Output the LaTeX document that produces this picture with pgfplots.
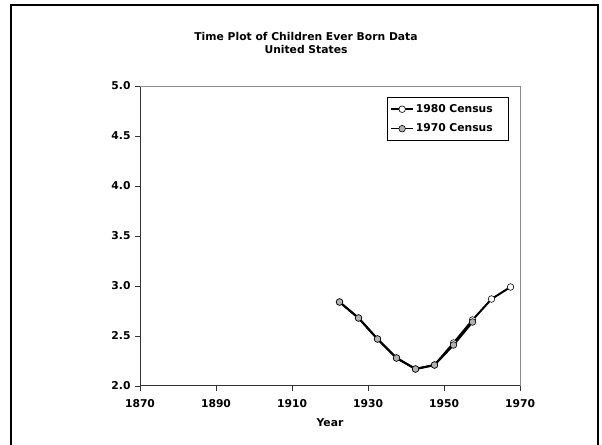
\documentclass[border=0pt]{standalone}
\usepackage{pgfplots}
\pgfplotsset{compat=1.18}
\usepackage{fontspec}
\setmainfont{DejaVu Sans}
\newcommand{\cf}{\bfseries\fontsize{10.8}{13}\selectfont}
\begin{document}
\begin{tikzpicture}[x=1bp,y=1bp]
\useasboundingbox (0,0) rectangle (602,445);
\draw[line width=2bp] (11,-10) -- (11,440) -- (598,440) -- (598,-10);
\node[font=\cf, align=center] at (306,402) {Time Plot of Children Ever Born Data\\United States};
\begin{axis}[
  at={(140bp,59bp)}, anchor=south west,
  scale only axis, width=380bp, height=300bp,
  xmin=1870, xmax=1970, ymin=2, ymax=5,
  xtick={1870,1890,...,1970}, ytick={2,2.5,...,5},
  axis x line*=bottom, axis y line*=left,
  axis line style={black!80, line width=1bp, -},
  tick align=outside, major tick length=5bp,
  tick style={black!80, line width=0.8bp},
  /pgf/number format/assume math mode=true,
  /pgf/number format/1000 sep={},
  yticklabel style={/pgf/number format/fixed, /pgf/number format/precision=1, /pgf/number format/fixed zerofill, xshift=-1bp},
  xticklabel style={yshift=-5bp},
  tick label style={font=\cf},
  xlabel={Year}, xlabel style={font=\cf, yshift=-4bp},
  legend style={at={(0.65,0.963)}, anchor=north west, font=\cf, draw=black, line width=0.8bp,
    row sep=6bp, inner xsep=3bp, inner ysep=5bp, text width=88bp},
  legend cell align=left,
  legend image code/.code={\draw[mark repeat=2, mark phase=2, #1, line width=1.5bp] plot coordinates {(0bp,0bp) (11bp,0bp) (22bp,0bp)};},
  clip=false,
]
\draw[black!45, line width=0.8bp] (rel axis cs:0,1) -- (rel axis cs:1,1) -- (rel axis cs:1,0);
\addplot[black, line width=2bp, mark=*, mark size=3.3bp, mark options={fill=white, draw=black, line width=0.6bp}] coordinates {
(1922.5,2.84) (1927.5,2.68) (1932.5,2.47) (1937.5,2.28) (1942.5,2.17) (1947.5,2.21) (1952.5,2.43) (1957.5,2.66) (1962.5,2.87) (1967.5,2.99)};
\addlegendentry{1980 Census}
\addplot[black, line width=2bp, mark=*, mark size=3.3bp, mark options={fill=black!30, draw=black, line width=0.6bp}] coordinates {
(1922.5,2.84) (1927.5,2.68) (1932.5,2.47) (1937.5,2.28) (1942.5,2.17) (1947.5,2.21) (1952.5,2.41) (1957.5,2.64)};
\addlegendentry{1970 Census}
\end{axis}
\end{tikzpicture}
\end{document}
